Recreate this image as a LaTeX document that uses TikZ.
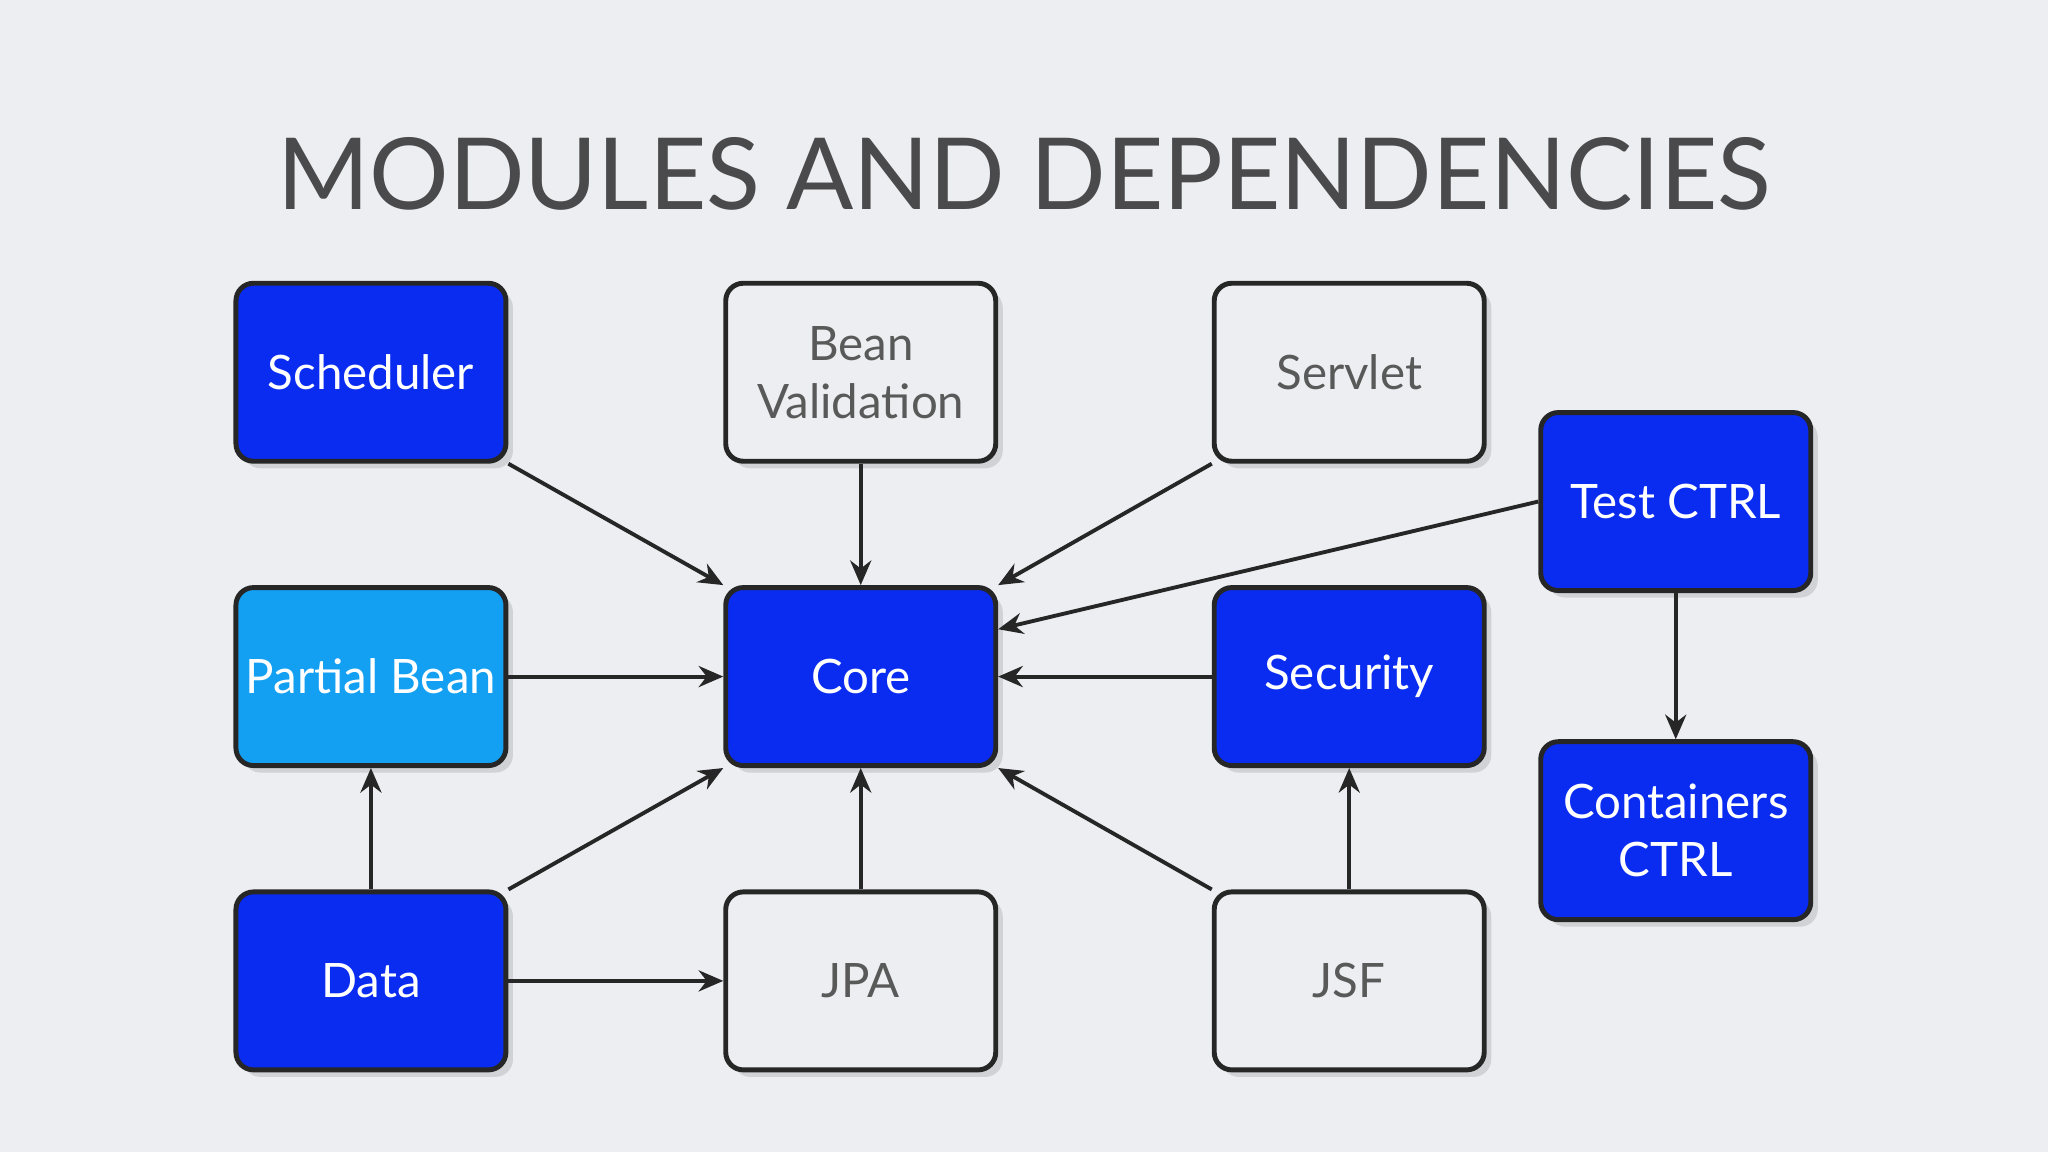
\documentclass[tikz,border=0pt]{standalone}
\usepackage{fontspec}
\setmainfont{Lato}
\usetikzlibrary{shadows,arrows.meta}
\definecolor{bg}{HTML}{EDEEF2}
\definecolor{dblue}{HTML}{0A2CF0}
\definecolor{lblue}{HTML}{14A0F2}
\definecolor{ttl}{HTML}{4A4A4C}
\begin{document}
\begin{tikzpicture}[x=0.013061cm,y=-0.013061cm,
  box/.style={draw=black!85,line width=1.4pt,rounded corners=5pt,minimum width=2.7cm,minimum height=1.78cm,inner xsep=1pt,align=center,font=\fontsize{13.5}{16.5}\selectfont,drop shadow={opacity=0.25,shadow xshift=2pt,shadow yshift=-2pt}},
  blue/.style={box,fill=dblue,text=white},
  light/.style={box,fill=lblue,text=white},
  white/.style={box,fill=bg,text=black!65},
  arr/.style={-{Stealth[length=7pt,width=6pt]},line width=1.1pt,black!85}]
\fill[bg] (0,0) rectangle (1568,882);
\useasboundingbox (0,0) rectangle (1568,882);
\node[text=ttl,font=\fontsize{28.3}{34}\selectfont] (title) at (784,133) {MODULES AND DEPENDENCIES};
\node[blue] (sched) at (284,285) {Scheduler};
\node[white] (bv) at (659,285) {Bean\\Validation};
\node[white] (servlet) at (1033,285) {Servlet};
\node[blue] (test) at (1283,384) {Test CTRL};
\node[light] (pb) at (284,518) {Partial Bean};
\node[blue] (core) at (659,518) {Core};
\node[blue] (sec) at (1033,518) {Security};
\node[blue] (cont) at (1283,636) {Containers\\CTRL};
\node[blue] (data) at (284,751) {Data};
\node[white] (jpa) at (659,751) {JPA};
\node[white] (jsf) at (1033,751) {JSF};
\draw[arr] (sched.south east) -- (core.north west);
\draw[arr] (bv) -- (core);
\draw[arr] (servlet.south west) -- (core.north east);
\draw[arr] (test.west) -- (core.19);
\draw[arr] (pb) -- (core);
\draw[arr] (sec) -- (core);
\draw[arr] (data.north east) -- (core.south west);
\draw[arr] (jpa) -- (core);
\draw[arr] (jsf.north west) -- (core.south east);
\draw[arr] (data) -- (pb);
\draw[arr] (data) -- (jpa);
\draw[arr] (jsf) -- (sec);
\draw[arr] (test) -- (cont);
\end{tikzpicture}
\end{document}
